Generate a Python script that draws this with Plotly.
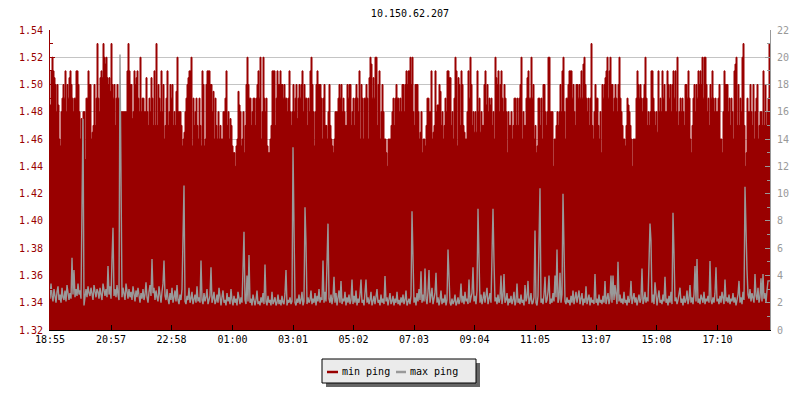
import plotly.graph_objects as go

chart_title = "10.150.62.207"
series_names = ["min ping", "max ping"]
start_label = "18:55"
step_minutes = 2
tick_labels = ["18:55", "20:57", "22:58", "01:00", "03:01", "05:02",
               "07:03", "09:04", "11:05", "13:07", "15:08", "17:10"]

# min ping (left axis), one value per 2 minutes
min_ping = [
    1.485, 1.51, 1.52, 1.51, 1.505, 1.50, 1.48, 1.50, 1.485, 1.46,
    1.455, 1.48, 1.49, 1.50, 1.49, 1.51, 1.48, 1.50, 1.49, 1.505,
    1.51, 1.50, 1.49, 1.48, 1.49, 1.49, 1.51, 1.51, 1.50, 1.48,
    1.46, 1.475, 1.46, 1.48, 1.48, 1.445, 1.49, 1.49, 1.51, 1.50,
    1.50, 1.46, 1.465, 1.47, 1.50, 1.47, 1.49, 1.53, 1.49, 1.48,
    1.505, 1.51, 1.505, 1.53, 1.52, 1.515, 1.52, 1.505, 1.50, 1.505,
    1.495, 1.53, 1.50, 1.49, 1.50, 1.47, 1.49, 1.50, 1.49, 1.49,
    1.465, 1.48, 1.48, 1.48, 1.48, 1.48, 1.48, 1.51, 1.53, 1.51,
    1.50, 1.50, 1.475, 1.48, 1.51, 1.50, 1.505, 1.51, 1.49, 1.48,
    1.52, 1.48, 1.49, 1.49, 1.48, 1.48, 1.505, 1.48, 1.47, 1.49,
    1.48, 1.505, 1.49, 1.47, 1.51, 1.47, 1.53, 1.47, 1.50, 1.49,
    1.48, 1.51, 1.48, 1.50, 1.46, 1.47, 1.49, 1.51, 1.47, 1.48,
    1.50, 1.49, 1.50, 1.47, 1.48, 1.47, 1.495, 1.52, 1.48, 1.48,
    1.48, 1.47, 1.455, 1.46, 1.465, 1.48, 1.49, 1.50, 1.505, 1.51,
    1.51, 1.52, 1.455, 1.49, 1.47, 1.48, 1.49, 1.47, 1.46, 1.49,
    1.47, 1.455, 1.51, 1.50, 1.455, 1.46, 1.50, 1.51, 1.51, 1.51,
    1.50, 1.50, 1.48, 1.495, 1.46, 1.49, 1.47, 1.46, 1.48, 1.46,
    1.47, 1.46, 1.46, 1.48, 1.48, 1.49, 1.51, 1.47, 1.48, 1.46,
    1.475, 1.47, 1.455, 1.45, 1.45, 1.44, 1.455, 1.46, 1.495, 1.485,
    1.48, 1.455, 1.46, 1.48, 1.45, 1.47, 1.50, 1.52, 1.50, 1.49,
    1.49, 1.47, 1.48, 1.49, 1.49, 1.47, 1.49, 1.50, 1.51, 1.49,
    1.52, 1.46, 1.48, 1.52, 1.49, 1.48, 1.49, 1.455, 1.45, 1.45,
    1.46, 1.47, 1.51, 1.51, 1.51, 1.47, 1.49, 1.51, 1.50, 1.50,
    1.51, 1.50, 1.50, 1.49, 1.50, 1.49, 1.49, 1.48, 1.49, 1.51,
    1.48, 1.47, 1.48, 1.50, 1.48, 1.49, 1.50, 1.475, 1.49, 1.50,
    1.49, 1.50, 1.51, 1.48, 1.50, 1.49, 1.49, 1.47, 1.49, 1.48,
    1.51, 1.52, 1.50, 1.48, 1.455, 1.48, 1.50, 1.51, 1.50, 1.50,
    1.50, 1.49, 1.46, 1.49, 1.50, 1.47, 1.47, 1.46, 1.48, 1.50,
    1.47, 1.46, 1.455, 1.45, 1.46, 1.48, 1.48, 1.48, 1.49, 1.50,
    1.49, 1.50, 1.48, 1.49, 1.48, 1.47, 1.47, 1.50, 1.49, 1.50,
    1.50, 1.47, 1.48, 1.49, 1.47, 1.49, 1.50, 1.49, 1.48, 1.51,
    1.46, 1.50, 1.49, 1.46, 1.49, 1.49, 1.50, 1.49, 1.46, 1.505,
    1.52, 1.515, 1.49, 1.505, 1.49, 1.52, 1.52, 1.47, 1.50, 1.51,
    1.46, 1.48, 1.50, 1.48, 1.46, 1.46, 1.45, 1.44, 1.46, 1.46,
    1.46, 1.47, 1.48, 1.49, 1.47, 1.49, 1.50, 1.49, 1.49, 1.48,
    1.49, 1.48, 1.50, 1.50, 1.48, 1.50, 1.51, 1.50, 1.51, 1.51,
    1.52, 1.50, 1.52, 1.48, 1.47, 1.50, 1.50, 1.50, 1.48, 1.46,
    1.465, 1.48, 1.45, 1.46, 1.46, 1.455, 1.47, 1.49, 1.49, 1.48,
    1.48, 1.51, 1.46, 1.465, 1.47, 1.51, 1.48, 1.485, 1.485, 1.50,
    1.495, 1.47, 1.48, 1.46, 1.47, 1.49, 1.48, 1.51, 1.51, 1.505,
    1.505, 1.47, 1.48, 1.46, 1.49, 1.52, 1.51, 1.455, 1.505, 1.50,
    1.47, 1.51, 1.50, 1.47, 1.465, 1.46, 1.46, 1.48, 1.51, 1.49,
    1.52, 1.50, 1.47, 1.48, 1.465, 1.48, 1.465, 1.51, 1.48, 1.49,
    1.465, 1.48, 1.47, 1.47, 1.50, 1.51, 1.485, 1.50, 1.48, 1.49,
    1.485, 1.49, 1.47, 1.48, 1.46, 1.52, 1.505, 1.50, 1.51, 1.48,
    1.50, 1.51, 1.49, 1.48, 1.50, 1.49, 1.48, 1.45, 1.48, 1.47,
    1.47, 1.48, 1.46, 1.47, 1.49, 1.49, 1.47, 1.49, 1.47, 1.49,
    1.50, 1.52, 1.46, 1.48, 1.47, 1.47, 1.49, 1.505, 1.51, 1.49,
    1.49, 1.52, 1.49, 1.50, 1.46, 1.47, 1.45, 1.455, 1.49, 1.49,
    1.47, 1.49, 1.46, 1.50, 1.50, 1.48, 1.47, 1.48, 1.52, 1.52,
    1.48, 1.48, 1.48, 1.44, 1.46, 1.46, 1.47, 1.48, 1.47, 1.48,
    1.50, 1.48, 1.51, 1.52, 1.48, 1.46, 1.49, 1.49, 1.50, 1.51,
    1.51, 1.51, 1.49, 1.50, 1.48, 1.47, 1.50, 1.50, 1.49, 1.50,
    1.49, 1.51, 1.49, 1.515, 1.52, 1.50, 1.49, 1.48, 1.49, 1.47,
    1.49, 1.53, 1.47, 1.46, 1.48, 1.50, 1.49, 1.49, 1.47, 1.46,
    1.48, 1.45, 1.50, 1.49, 1.50, 1.505, 1.51, 1.52, 1.49, 1.51,
    1.52, 1.50, 1.50, 1.48, 1.49, 1.50, 1.49, 1.48, 1.50, 1.52,
    1.49, 1.48, 1.47, 1.46, 1.46, 1.455, 1.47, 1.49, 1.485, 1.48,
    1.47, 1.46, 1.44, 1.46, 1.46, 1.46, 1.49, 1.51, 1.50, 1.49,
    1.50, 1.49, 1.48, 1.49, 1.50, 1.52, 1.49, 1.47, 1.48, 1.47,
    1.48, 1.51, 1.51, 1.49, 1.48, 1.47, 1.48, 1.465, 1.51, 1.48,
    1.49, 1.48, 1.51, 1.49, 1.50, 1.48, 1.48, 1.51, 1.50, 1.49,
    1.50, 1.48, 1.50, 1.51, 1.49, 1.51, 1.48, 1.52, 1.47, 1.48,
    1.49, 1.48, 1.49, 1.48, 1.47, 1.50, 1.50, 1.49, 1.51, 1.49,
    1.46, 1.45, 1.47, 1.49, 1.50, 1.48, 1.50, 1.49, 1.51, 1.50,
    1.51, 1.50, 1.52, 1.49, 1.52, 1.52, 1.50, 1.48, 1.49, 1.47,
    1.50, 1.49, 1.51, 1.49, 1.48, 1.49, 1.48, 1.48, 1.49, 1.50,
    1.46, 1.46, 1.45, 1.48, 1.51, 1.50, 1.50, 1.50, 1.48, 1.49,
    1.47, 1.49, 1.48, 1.46, 1.51, 1.515, 1.52, 1.47, 1.50, 1.47,
    1.49, 1.48, 1.52, 1.53, 1.47, 1.44, 1.45, 1.49, 1.48, 1.48,
    1.50, 1.48, 1.47, 1.50, 1.46, 1.48, 1.49, 1.50, 1.46, 1.47,
    1.48, 1.48, 1.47, 1.51, 1.47, 1.50, 1.47, 1.48, 1.49, 1.53,
]

# max ping (right axis), one value per 2 minutes
max_ping = [
    2.3, 3.4, 2.5, 2.1, 3.0, 2.4, 2.0, 2.8, 3.2, 2.2,
    2.6, 2.0, 3.1, 2.4, 2.2, 2.9, 2.1, 3.3, 2.5, 2.2,
    2.7, 2.3, 5.3, 2.6, 4.4, 2.4, 3.0, 2.5, 3.4, 2.6,
    2.9, 2.3, 9.1, 15.5, 1.8, 2.6, 3.0, 2.4, 3.2, 2.7,
    2.5, 3.1, 2.6, 2.2, 3.3, 2.7, 2.4, 3.0, 2.8, 2.3,
    3.1, 2.6, 2.2, 3.4, 2.8, 2.5, 3.0, 2.4, 4.7, 2.6,
    3.2, 2.3, 5.2, 7.5, 2.5, 3.0, 2.4, 3.3, 2.6, 2.2,
    20.2, 11.3, 2.4, 3.1, 2.5, 2.2, 3.4, 2.6, 2.3, 3.0,
    2.4, 2.8, 2.2, 3.2, 2.5, 2.1, 2.9, 2.4, 3.1, 2.3,
    2.0, 2.7, 2.3, 3.0, 2.2, 2.6, 3.5, 2.4, 2.0, 2.8,
    3.3, 2.5, 5.2, 2.7, 3.1, 2.2, 2.9, 2.4, 2.1, 3.2,
    2.6, 2.0, 2.8, 3.4, 5.1, 2.5, 2.2, 3.0, 2.3, 1.9,
    2.7, 2.2, 3.1, 2.0, 2.4, 2.9, 2.1, 3.3, 2.2, 1.9,
    2.6, 2.2, 3.0, 6.2, 10.6, 2.1, 1.9, 2.5, 2.2, 3.1,
    2.0, 2.3, 2.8, 1.9, 2.2, 2.6, 2.0, 3.2, 2.1, 2.4,
    2.0, 5.1, 2.2, 1.9, 2.7, 2.1, 2.4, 3.0, 1.9, 2.2,
    2.5, 4.6, 2.0, 2.3, 2.8, 1.9, 2.1, 2.6, 2.0, 3.1,
    2.2, 1.8, 2.4, 2.9, 2.0, 2.2, 1.8, 2.7, 2.1, 2.4,
    1.9, 3.0, 2.2, 1.8, 2.5, 2.0, 2.3, 1.8, 2.8, 2.1,
    1.9, 2.4, 2.0, 4.45, 7.2, 2.2, 1.9, 4.0, 2.1, 5.5,
    2.0, 2.3, 1.8, 2.6, 2.0, 1.8, 2.2, 2.9, 1.9, 2.1,
    1.8, 2.4, 2.0, 2.7, 1.9, 4.8, 2.1, 1.8, 2.5, 2.0,
    2.2, 1.8, 2.8, 1.9, 2.1, 2.4, 1.8, 2.0, 2.6, 1.9,
    2.2, 1.8, 2.5, 2.0, 1.9, 2.7, 4.4, 1.8, 2.2, 2.0,
    2.4, 1.9, 2.1, 13.4, 7.6, 2.0, 1.8, 2.3, 2.0, 2.6,
    1.9, 2.2, 2.8, 1.8, 2.1, 9.0, 6.4, 1.9, 2.4, 2.0,
    2.2, 2.9, 1.9, 2.3, 2.0, 2.7, 1.8, 2.5, 2.1, 3.0,
    2.0, 2.4, 2.2, 5.1, 2.0, 2.8, 2.1, 5.0, 7.8, 2.3,
    2.0, 2.6, 1.9, 2.4, 3.9, 2.0, 2.7, 1.8, 2.2, 2.9,
    2.0, 3.6, 1.9, 2.3, 2.1, 2.8, 1.8, 2.4, 2.0, 2.6,
    1.9, 2.2, 3.7, 1.9, 2.5, 2.0, 2.9, 1.8, 2.3, 2.0,
    2.6, 3.7, 2.0, 2.2, 1.8, 2.7, 3.7, 2.0, 2.4, 1.9,
    2.2, 2.8, 1.8, 2.1, 2.5, 1.9, 2.3, 3.0, 2.0, 2.2,
    1.8, 2.6, 2.0, 2.3, 1.9, 3.96, 2.1, 2.4, 1.8, 2.2,
    2.7, 1.9, 2.1, 2.5, 1.8, 2.3, 2.0, 2.8, 1.9, 2.2,
    1.8, 2.4, 2.0, 2.6, 1.9, 2.2, 2.9, 1.8, 2.1, 2.3,
    1.9, 2.5, 8.7, 5.45, 2.0, 2.4, 1.8, 2.7, 2.1, 3.0,
    2.2, 4.3, 2.0, 2.6, 2.1, 4.5, 2.3, 1.9, 2.8, 4.4,
    2.0, 2.5, 3.1, 1.9, 2.3, 2.7, 4.2, 2.0, 2.4, 1.8,
    2.2, 2.9, 1.9, 2.3, 2.0, 2.6, 1.8, 2.2, 5.9, 3.9,
    2.0, 1.8, 2.3, 1.9, 2.1, 2.6, 1.8, 2.0, 2.4, 1.9,
    2.2, 3.4, 2.0, 2.5, 1.9, 2.8, 2.1, 2.3, 1.9, 3.7,
    2.0, 2.4, 2.7, 4.6, 2.1, 2.5, 1.9, 2.9, 8.9, 5.3,
    2.0, 2.6, 1.9, 2.3, 2.8, 2.0, 2.4, 3.1, 1.9, 2.2,
    2.7, 2.0, 6.2, 8.9, 5.0, 2.1, 2.4, 1.9, 2.6, 2.0,
    2.3, 4.0, 1.9, 2.5, 4.1, 2.0, 2.2, 2.7, 1.8, 2.3,
    2.0, 2.5, 1.9, 2.2, 2.8, 1.8, 2.1, 3.4, 2.0, 2.3,
    1.9, 2.6, 2.0, 2.2, 1.8, 3.3, 2.1, 2.4, 3.6, 1.9,
    2.2, 2.7, 1.9, 2.0, 2.4, 7.3, 2.0, 1.8, 2.5, 6.7,
    10.4, 2.0, 2.3, 1.9, 2.6, 3.9, 2.0, 2.2, 2.8, 4.0,
    1.9, 2.3, 2.0, 2.7, 2.1, 4.0, 2.4, 5.9, 2.0, 2.3,
    4.2, 2.0, 2.6, 10.0, 6.3, 2.1, 1.9, 2.4, 2.0, 2.2,
    1.8, 2.5, 2.0, 2.9, 1.9, 2.3, 2.8, 2.0, 2.4, 2.9,
    1.9, 2.2, 2.7, 1.8, 2.3, 2.0, 3.2, 1.9, 2.2, 2.6,
    1.8, 2.4, 2.0, 2.2, 1.9, 4.1, 2.0, 2.3, 1.8, 2.6,
    2.0, 2.2, 1.9, 2.5, 2.0, 3.6, 1.9, 2.2, 2.7, 1.9,
    2.3, 4.0, 2.0, 4.0, 2.2, 3.3, 2.4, 1.9, 5.0, 2.1,
    2.6, 2.0, 2.3, 1.9, 2.8, 2.0, 2.2, 1.8, 2.5, 2.0,
    2.3, 3.6, 1.9, 2.2, 2.7, 2.0, 2.4, 1.8, 2.2, 2.6,
    2.0, 2.3, 4.5, 1.9, 2.2, 2.8, 2.0, 2.4, 2.1, 5.1,
    7.8, 6.5, 2.0, 2.6, 1.9, 3.5, 2.2, 1.8, 2.4, 2.9,
    2.0, 2.2, 1.9, 2.6, 2.1, 3.9, 2.0, 2.3, 1.8, 2.5,
    2.0, 2.8, 1.9, 8.6, 5.6, 2.1, 2.4, 1.9, 2.2, 2.7,
    3.1, 2.0, 2.3, 1.8, 2.5, 2.0, 2.2, 2.9, 1.9, 2.3,
    3.3, 2.0, 2.4, 1.9, 2.6, 4.7, 2.1, 5.2, 2.0, 2.3,
    1.9, 2.6, 2.2, 2.0, 2.8, 1.9, 2.3, 2.1, 2.5, 2.0,
    5.05, 2.2, 1.9, 2.4, 2.0, 2.7, 4.6, 2.1, 2.3, 1.9,
    2.5, 2.0, 2.8, 2.2, 1.9, 3.7, 2.1, 2.4, 2.0, 2.6,
    1.9, 2.3, 2.1, 2.7, 2.0, 2.4, 1.8, 2.2, 2.6, 3.6,
    2.0, 2.4, 1.9, 2.8, 2.2, 10.5, 6.7, 4.4, 2.6, 2.3,
    3.0, 2.1, 2.7, 2.4, 2.0, 4.1, 2.5, 2.2, 3.1, 2.0,
    2.4, 3.8, 2.1, 4.1, 2.3, 2.7, 2.0, 2.9, 3.6, 3.6,
]

RED = "#990000"
GREY = "#999999"
FONT = "DejaVu Sans Mono"


def minutes_after_start(label):
    h, m = map(int, label.split(":"))
    sh, sm = map(int, start_label.split(":"))
    return (h * 60 + m - (sh * 60 + sm)) % 1440


n = len(min_ping)
x = [i * step_minutes for i in range(n)] + [n * step_minutes]
y_min = min_ping + [min_ping[-1]]
y_max = max_ping + [max_ping[-1]]
tick_vals = [minutes_after_start(t) for t in tick_labels]

fig = go.Figure()
fig.add_trace(go.Scatter(
    x=x, y=y_min, name=series_names[0], mode="lines", line_shape="hv",
    line=dict(color=RED, width=1), fill="tozeroy", fillcolor=RED,
    yaxis="y", showlegend=False, hoverinfo="skip"))
fig.add_trace(go.Scatter(
    x=x, y=y_max, name=series_names[1], mode="lines",
    line=dict(color=GREY, width=1.4), yaxis="y2", showlegend=False,
    hoverinfo="skip"))

# plot area in pixels
L, R, T, B = 50, 770, 30, 330
W, H = 800, 400


def px(xp):
    return (xp - L) / (R - L)


def py(yp):
    return (B - yp) / (B - T)


fig.update_layout(
    width=W, height=H,
    margin=dict(l=L, r=W - R, t=T, b=H - B, autoexpand=False),
    paper_bgcolor="white", plot_bgcolor="white",
    font=dict(family=FONT, size=10, color="black"),
    title=dict(text=chart_title, x=0.5, xref="paper", xanchor="center",
               y=1 - 13 / H, yanchor="middle", automargin=False,
               font=dict(family=FONT, size=10, color="black")),
    showlegend=False,
    xaxis=dict(range=[0, n * step_minutes], tickvals=tick_vals,
               ticktext=tick_labels, showgrid=False, zeroline=False,
               automargin=False,
               showline=True, linecolor="black", linewidth=1,
               ticks="inside", ticklen=5, tickcolor="black",
               tickfont=dict(family=FONT, size=10, color="black")),
    yaxis=dict(range=[1.32, 1.54], dtick=0.02, tick0=1.32,
               tickformat=".2f", showgrid=True, gridcolor="#c4c4c4",
               gridwidth=1, zeroline=False, showline=True,
               automargin=False,
               linecolor=RED, linewidth=1, ticks="inside", ticklen=5,
               tickcolor=RED, ticklabelstandoff=4,
               tickfont=dict(family=FONT, size=10, color=RED),
               minor=dict(dtick=0.01, tick0=1.32, ticks="inside",
                          ticklen=3, tickcolor=RED, showgrid=False)),
    yaxis2=dict(range=[0, 22], dtick=2, tick0=0, overlaying="y",
                side="right", showgrid=False, zeroline=False,
                automargin=False,
                showline=True, linecolor=GREY, linewidth=1,
                ticks="inside", ticklen=5, tickcolor=GREY,
                ticklabelstandoff=4,
                tickfont=dict(family=FONT, size=10, color=GREY),
                minor=dict(dtick=1, tick0=0, ticks="inside", ticklen=3,
                           tickcolor=GREY, showgrid=False)),
)

# custom legend with drop shadow
shapes = [
    dict(type="rect", xref="paper", yref="paper",
         x0=px(326), x1=px(480), y0=py(387), y1=py(363),
         fillcolor="#666666", line=dict(width=0), layer="above"),
    dict(type="rect", xref="paper", yref="paper",
         x0=px(322), x1=px(476), y0=py(383), y1=py(359),
         fillcolor="#ebebeb", line=dict(color="black", width=1),
         layer="above"),
    dict(type="line", xref="paper", yref="paper",
         x0=px(327), x1=px(338), y0=py(372), y1=py(372),
         line=dict(color=RED, width=2.5), layer="above"),
    dict(type="line", xref="paper", yref="paper",
         x0=px(396), x1=px(406), y0=py(372), y1=py(372),
         line=dict(color=GREY, width=2.5), layer="above"),
]
annotations = [
    dict(text=series_names[0], xref="paper", yref="paper", x=px(340),
         y=py(371.5), xanchor="left", yanchor="middle", showarrow=False,
         font=dict(family=FONT, size=10, color="black")),
    dict(text=series_names[1], xref="paper", yref="paper", x=px(408),
         y=py(371.5), xanchor="left", yanchor="middle", showarrow=False,
         font=dict(family=FONT, size=10, color="black")),
]
fig.update_layout(shapes=shapes, annotations=annotations)

fig.write_html("out.html", config={"displayModeBar": False},
               post_script="document.body.style.margin='0px';")
